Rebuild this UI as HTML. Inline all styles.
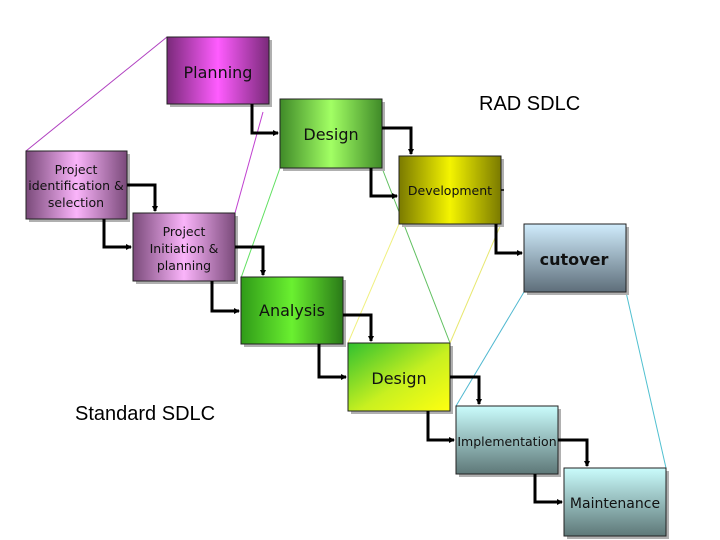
<!DOCTYPE html>
<html><head><meta charset="utf-8"><style>
html,body{margin:0;padding:0;background:#fff;}
svg{display:block;}
text{font-family:"DejaVu Sans","Liberation Sans",sans-serif;}
</style></head><body>
<svg width="720" height="540" viewBox="0 0 720 540" xmlns="http://www.w3.org/2000/svg">
<defs>
<linearGradient id="purp" x1="0" x2="1" y1="0" y2="0"><stop offset="0" stop-color="#7a2a7a"/><stop offset="0.5" stop-color="#ff5cff"/><stop offset="1" stop-color="#7a2a7a"/></linearGradient>
<linearGradient id="pink" x1="0" x2="1" y1="0" y2="0"><stop offset="0" stop-color="#7a4a7a"/><stop offset="0.5" stop-color="#fab4fa"/><stop offset="1" stop-color="#7a4a7a"/></linearGradient>
<linearGradient id="grn" x1="0" x2="1" y1="0" y2="0"><stop offset="0" stop-color="#3f8a28"/><stop offset="0.5" stop-color="#a2ff64"/><stop offset="1" stop-color="#3f8a28"/></linearGradient>
<linearGradient id="grn2" x1="0" x2="1" y1="0" y2="0"><stop offset="0" stop-color="#2f9a18"/><stop offset="0.5" stop-color="#6af030"/><stop offset="1" stop-color="#2a7a18"/></linearGradient>
<linearGradient id="yel" x1="0" x2="1" y1="0" y2="0"><stop offset="0" stop-color="#7a7a00"/><stop offset="0.5" stop-color="#f4f400"/><stop offset="1" stop-color="#7a7a00"/></linearGradient>
<linearGradient id="yelv" x1="0" x2="0" y1="0" y2="1"><stop offset="0" stop-color="#ffff00" stop-opacity="0.2"/><stop offset="1" stop-color="#606000" stop-opacity="0.5"/></linearGradient>
<linearGradient id="gy" x1="0" x2="1" y1="0" y2="1"><stop offset="0" stop-color="#30c030"/><stop offset="0.55" stop-color="#c8f020"/><stop offset="1" stop-color="#ffff10"/></linearGradient>
<linearGradient id="blu" x1="0" x2="0" y1="0" y2="1"><stop offset="0" stop-color="#d0ecfc"/><stop offset="1" stop-color="#5e6e7a"/></linearGradient>
<linearGradient id="cya" x1="0" x2="0" y1="0" y2="1"><stop offset="0" stop-color="#cafcfc"/><stop offset="1" stop-color="#5e7878"/></linearGradient>
<marker id="ah" markerWidth="6" markerHeight="6" refX="5" refY="3" orient="auto" markerUnits="userSpaceOnUse"><path d="M0,0 L6,3 L0,6 z" fill="#000"/></marker>
</defs>

<!-- thin connector lines -->
<g stroke-width="1" fill="none">
<line x1="167" y1="37" x2="26" y2="151" stroke="#b040c0"/>
<line x1="263" y1="112" x2="235" y2="213" stroke="#c040d0"/>
<line x1="280" y1="168" x2="241" y2="278" stroke="#60e060"/>
<line x1="382" y1="168" x2="450" y2="343" stroke="#60c060"/>
<line x1="399" y1="224" x2="348" y2="343" stroke="#f0f080"/>
<line x1="501" y1="224" x2="450" y2="343" stroke="#e8e870"/>
<line x1="524" y1="292" x2="456" y2="406" stroke="#50b8d0"/>
<line x1="626" y1="292" x2="666" y2="468" stroke="#50c0d0"/>
</g>

<!-- shadows -->
<g fill="#b0b0b0">
<rect x="170" y="40" width="102" height="67"/>
<rect x="283" y="102" width="102" height="69"/>
<rect x="29" y="154" width="101" height="68"/>
<rect x="402" y="159" width="102" height="68"/>
<rect x="136" y="216" width="102" height="68"/>
<rect x="527" y="227" width="102" height="68"/>
<rect x="244" y="280" width="102" height="67"/>
<rect x="351" y="346" width="102" height="68"/>
<rect x="459" y="409" width="102" height="68"/>
<rect x="567" y="471" width="102" height="68"/>
</g>

<!-- boxes -->
<g stroke="#222" stroke-width="1">
<rect x="167" y="37" width="102" height="67" fill="url(#purp)"/>
<rect x="280" y="99" width="102" height="69" fill="url(#grn)"/>
<rect x="26" y="151" width="101" height="68" fill="url(#pink)"/>
<rect x="399" y="156" width="102" height="68" fill="url(#yel)"/>
<rect x="133" y="213" width="102" height="68" fill="url(#pink)"/>
<rect x="524" y="224" width="102" height="68" fill="url(#blu)"/>
<rect x="241" y="277" width="102" height="67" fill="url(#grn2)"/>
<rect x="348" y="343" width="102" height="68" fill="url(#gy)"/>
<rect x="456" y="406" width="102" height="68" fill="url(#cya)"/>
<rect x="564" y="468" width="102" height="68" fill="url(#cya)"/>
</g>

<!-- elbow arrows -->
<g stroke="#000" stroke-width="3" fill="none" marker-end="url(#ah)">
<polyline points="252,104 252,133 278,133"/>
<polyline points="382,128 411,128 411,154"/>
<polyline points="371,168 371,196 397,196"/>
<polyline points="496,224 496,253 522,253"/>
<polyline points="127,185 155,185 155,211"/>
<polyline points="104,219 104,247 131,247"/>
<polyline points="235,247 263,247 263,275"/>
<polyline points="212,281 212,311 239,311"/>
<polyline points="343,315 371,315 371,341"/>
<polyline points="319,344 319,377 346,377"/>
<polyline points="450,377 479,377 479,404"/>
<polyline points="428,411 428,440 454,440"/>
<polyline points="558,440 587,440 587,466"/>
<polyline points="535,474 535,502 562,502"/>
</g>
<line x1="501" y1="190" x2="504" y2="190" stroke="#000" stroke-width="1.5"/>

<!-- labels -->
<g fill="#111" text-anchor="middle">
<text x="218" y="78" font-size="16">Planning</text>
<text x="331" y="140" font-size="16">Design</text>
<text x="76" y="174" font-size="12.5">Project</text>
<text x="76" y="190" font-size="12.5">identification &amp;</text>
<text x="76" y="207" font-size="12.5">selection</text>
<text x="450" y="195" font-size="12.5">Development</text>
<text x="184" y="236" font-size="12.5">Project</text>
<text x="184" y="253" font-size="12.5">Initiation &amp;</text>
<text x="184" y="270" font-size="12.5">planning</text>
<text x="574" y="265" font-size="16" font-weight="bold">cutover</text>
<text x="292" y="316" font-size="16">Analysis</text>
<text x="399" y="384" font-size="16">Design</text>
<text x="507" y="446" font-size="12.5">Implementation</text>
<text x="615" y="508" font-size="14">Maintenance</text>
</g>
<text x="479" y="110" font-size="20" fill="#000" style="font-family:'Liberation Sans',sans-serif">RAD SDLC</text>
<text x="75" y="420" font-size="20" fill="#000" style="font-family:'Liberation Sans',sans-serif">Standard SDLC</text>
</svg>
</body></html>
